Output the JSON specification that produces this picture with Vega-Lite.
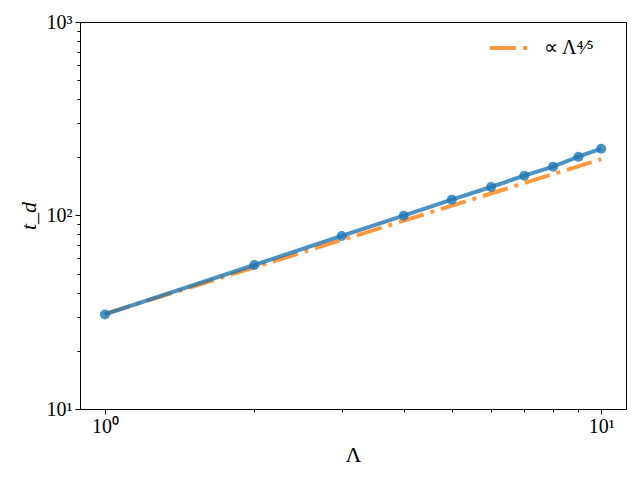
{
  "$schema": "https://vega.github.io/schema/vega-lite/v6.json",
  "width": 546,
  "height": 387,
  "autosize": {"type": "none"},
  "padding": {"left": 80, "top": 22, "right": 14, "bottom": 71},
  "config": {
    "view": {"stroke": "black", "strokeWidth": 1},
    "font": "Liberation Serif",
    "axis": {"grid": false, "domain": false, "tickColor": "black", "labelColor": "black", "titleColor": "black", "labelFont": "Liberation Serif", "titleFont": "Liberation Serif", "labelFontSize": 20, "titleFontSize": 22, "titleFontWeight": "normal"}
  },
  "datasets": {
    "sim": [
      {"L": 1, "td": 30.8},
      {"L": 2, "td": 55.5},
      {"L": 3, "td": 78.4},
      {"L": 4, "td": 99.8},
      {"L": 5, "td": 120.7},
      {"L": 6, "td": 140.4},
      {"L": 7, "td": 160.6},
      {"L": 8, "td": 178.7},
      {"L": 9, "td": 201.3},
      {"L": 10, "td": 221.4}
    ],
    "fit": [
      {"L": 1, "td": 31, "series": "∝ Λ⁴⁄⁵"},
      {"L": 10, "td": 195.6, "series": "∝ Λ⁴⁄⁵"}
    ]
  },
  "layer": [
    {
      "data": {"name": "fit"},
      "mark": {"type": "line", "strokeWidth": 4, "strokeDash": [26, 7, 4, 7], "opacity": 0.8, "clip": true},
      "encoding": {
        "x": {"field": "L", "type": "quantitative", "scale": {"type": "log", "domain": [0.891, 11.22], "nice": false},
          "axis": {"title": "Λ", "values": [1,2,3,4,5,6,7,8,9,10], "labelExpr": "datum.value == 1 ? '10⁰' : datum.value == 10 ? '10¹' : ''", "tickSize": {"condition": {"test": "datum.value == 1 || datum.value == 10", "value": 5}, "value": 3}, "labelPadding": 2, "titlePadding": 8}},
        "y": {"field": "td", "type": "quantitative", "scale": {"type": "log", "domain": [10, 1000], "nice": false},
          "axis": {"title": "t_d", "titleFontStyle": "italic", "values": [10,20,30,40,50,60,70,80,90,100,200,300,400,500,600,700,800,900,1000], "labelExpr": "datum.value == 10 ? '10¹' : datum.value == 100 ? '10²' : datum.value == 1000 ? '10³' : ''", "tickSize": {"condition": {"test": "datum.value == 10 || datum.value == 100 || datum.value == 1000", "value": 5}, "value": 3}, "labelPadding": 3, "titlePadding": 6}},
        "color": {"field": "series", "type": "nominal", "scale": {"range": ["#ff7f0e"]},
          "legend": {"title": null, "orient": "none", "legendX": 408, "legendY": 4, "symbolType": "stroke", "symbolDash": [26, 7, 4, 7], "symbolStrokeWidth": 4, "symbolSize": 1600, "symbolOpacity": 0.8, "labelFontSize": 20, "labelFont": "Liberation Serif", "labelColor": "black", "labelOffset": 12}}
      }
    },
    {
      "data": {"name": "sim"},
      "mark": {"type": "line", "color": "#1f77b4", "strokeWidth": 4, "opacity": 0.8},
      "encoding": {
        "x": {"field": "L", "type": "quantitative"},
        "y": {"field": "td", "type": "quantitative"}
      }
    },
    {
      "data": {"name": "sim"},
      "mark": {"type": "point", "filled": true, "color": "#1f77b4", "size": 100, "opacity": 0.8},
      "encoding": {
        "x": {"field": "L", "type": "quantitative"},
        "y": {"field": "td", "type": "quantitative"}
      }
    }
  ]
}
